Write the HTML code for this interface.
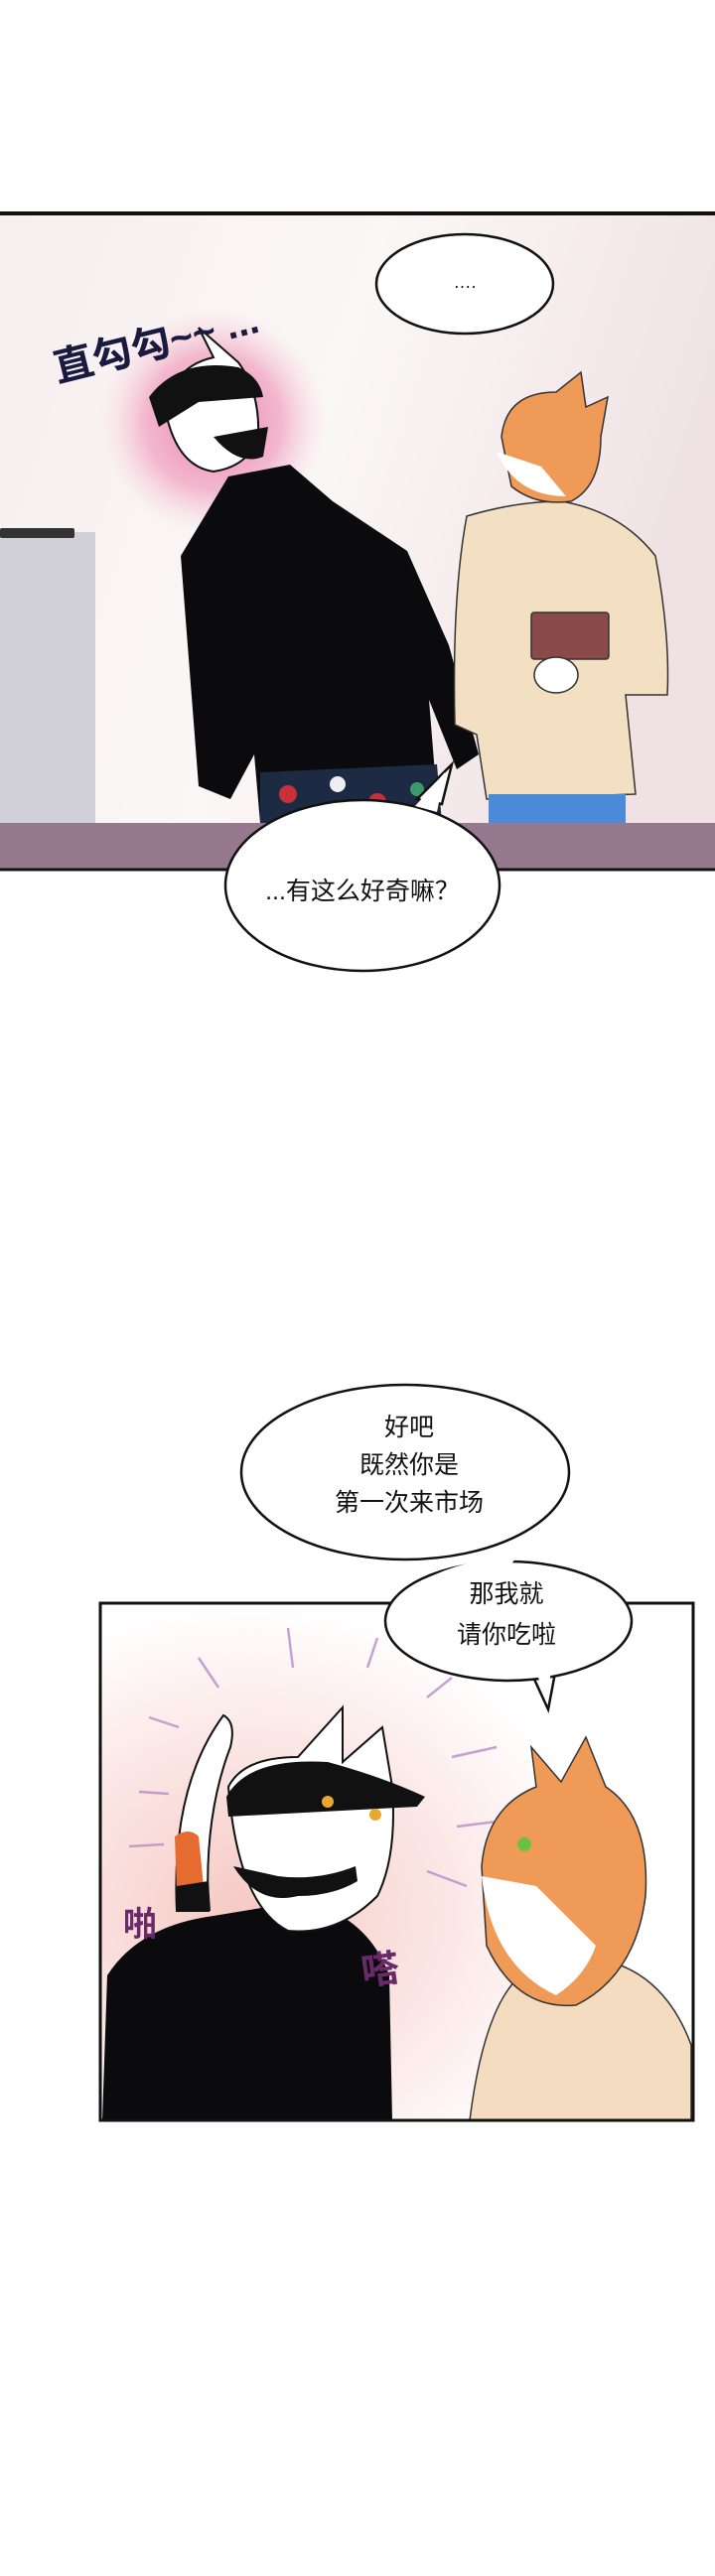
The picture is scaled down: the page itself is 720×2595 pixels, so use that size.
<!DOCTYPE html>
<html><head><meta charset="utf-8"><style>
html,body{margin:0;padding:0;background:#fff;}
svg{display:block}
text{font-family:"Liberation Sans","Noto Sans CJK SC",sans-serif;}
</style></head><body>
<svg width="720" height="2595" viewBox="0 0 720 2595" xmlns="http://www.w3.org/2000/svg">
<defs>
<linearGradient id="bg1" x1="0" y1="0" x2="1" y2="0.3">
<stop offset="0" stop-color="#f7eeee"/><stop offset="0.5" stop-color="#fbf7f7"/><stop offset="1" stop-color="#f0e2e4"/></linearGradient>
<radialGradient id="glow" cx="0.5" cy="0.5" r="0.5">
<stop offset="0" stop-color="#ec7fa8"/><stop offset="0.6" stop-color="#f1a9c3" stop-opacity="0.8"/><stop offset="1" stop-color="#f7d6e2" stop-opacity="0"/></radialGradient>
<radialGradient id="bg2" cx="0.25" cy="0.6" r="0.6">
<stop offset="0" stop-color="#f6c9c4"/><stop offset="0.6" stop-color="#fbe9e7"/><stop offset="1" stop-color="#ffffff"/></radialGradient>
</defs>

<!-- PANEL 1 -->
<rect x="0" y="215" width="720" height="661" fill="url(#bg1)"/>
<line x1="0" y1="215" x2="720" y2="215" stroke="#111" stroke-width="4"/>
<!-- fridge -->
<rect x="0" y="536" width="96" height="293" fill="#d1d0d8"/>
<rect x="0" y="532" width="75" height="10" fill="#333" rx="2"/>
<!-- glow -->
<circle cx="215" cy="425" r="115" fill="url(#glow)"/>
<!-- black cat body -->
<path d="M230 480 L292 468 L335 505 L410 555 L452 650 L482 760 L460 775 L432 705 L442 829 L262 829 L256 760 L232 805 L200 792 L182 560 Z" fill="#0b0b0d"/>
<path d="M262 778 L440 770 L445 829 L262 829 Z" fill="#1c2a44"/>
<circle cx="290" cy="800" r="9" fill="#c8303a"/><circle cx="340" cy="790" r="8" fill="#eee"/><circle cx="380" cy="808" r="9" fill="#c8303a"/><circle cx="420" cy="795" r="7" fill="#3a9a6a"/>
<!-- black cat head -->
<path d="M168 420 Q170 370 215 360 L200 330 L240 365 Q262 395 260 440 Q250 470 215 475 Q180 470 168 420 Z" fill="#fff" stroke="#111" stroke-width="2"/>
<path d="M150 400 Q180 360 240 370 Q262 380 265 400 L200 405 L160 430 Z" fill="#111"/>
<path d="M215 440 Q240 470 265 460 L270 430 Z" fill="#111"/>
<!-- orange cat -->
<path d="M470 520 Q520 505 565 505 Q625 515 660 560 Q675 640 672 700 L630 700 L640 800 L490 805 L480 740 L458 730 Q455 600 470 520 Z" fill="#f3dfc2" stroke="#333" stroke-width="1.5"/>
<rect x="492" y="800" width="138" height="29" fill="#4a8ad8"/>
<path d="M505 440 Q510 395 560 395 L585 375 L590 410 L612 400 L605 440 Q605 490 575 505 Q540 510 515 490 Z" fill="#f09a58" stroke="#333" stroke-width="1.5"/>
<path d="M500 455 Q520 500 570 500 L545 470 Z" fill="#fff"/>
<rect x="535" y="617" width="78" height="47" fill="#8a4a4a" stroke="#333" stroke-width="1.5" rx="3"/>
<ellipse cx="560" cy="680" rx="22" ry="18" fill="#fff" stroke="#333" stroke-width="1.5"/>
<rect x="0" y="829" width="720" height="47" fill="#97798f"/>
<line x1="0" y1="876" x2="720" y2="876" stroke="#111" stroke-width="3"/>
<!-- sound text -->
<text x="58" y="385" font-size="40" fill="#1a1a40" transform="rotate(-14 58 385)" font-weight="bold">直勾勾~~ ...</text>
<!-- bubble ... -->
<ellipse cx="468" cy="286" rx="89" ry="50" fill="#fff" stroke="#111" stroke-width="2.5"/>
<text x="468" y="290" font-size="18" text-anchor="middle" fill="#111">….</text>
<!-- bubble bottom -->
<path d="M420 805 L455 770 L445 810 Z" fill="#fff" stroke="#111" stroke-width="2.5"/>
<ellipse cx="365" cy="892" rx="138" ry="86" fill="#fff" stroke="#111" stroke-width="2.5"/>
<path d="M418 812 L448 778 L440 818 Z" fill="#fff"/>
<text x="365" y="906" font-size="25" text-anchor="middle" fill="#111">...有这么好奇嘛？</text>

<!-- PANEL 2 -->
<rect x="101" y="1615" width="597" height="521" fill="url(#bg2)"/>
<g stroke="#b88cc8" stroke-width="2.5" opacity="0.8">
<line x1="290" y1="1640" x2="295" y2="1680"/><line x1="200" y1="1670" x2="220" y2="1700"/><line x1="150" y1="1730" x2="180" y2="1740"/>
<line x1="380" y1="1650" x2="370" y2="1680"/><line x1="455" y1="1690" x2="430" y2="1710"/><line x1="500" y1="1760" x2="455" y2="1770"/>
<line x1="500" y1="1835" x2="460" y2="1840"/><line x1="470" y1="1900" x2="430" y2="1885"/><line x1="140" y1="1805" x2="170" y2="1807"/><line x1="130" y1="1860" x2="165" y2="1858"/>
</g>
<!-- tail -->
<path d="M178 1925 Q172 1800 225 1728 Q238 1735 232 1760 Q205 1830 210 1925 Z" fill="#fff" stroke="#111" stroke-width="2"/>
<path d="M176 1850 Q190 1840 200 1850 L205 1900 L178 1905 Z" fill="#e56b30"/>
<path d="M178 1900 L210 1895 L212 1925 L178 1925 Z" fill="#111"/>
<!-- black cat body p2 -->
<path d="M103 2136 L108 1990 Q140 1940 215 1930 L305 1915 Q370 1930 392 1990 L395 2136 Z" fill="#0b0b0d"/>
<!-- head p2 -->
<path d="M230 1800 Q245 1770 300 1770 L345 1720 L345 1775 L385 1740 L395 1800 Q400 1870 380 1910 Q340 1950 290 1945 Q240 1920 230 1800 Z" fill="#fff" stroke="#111" stroke-width="2"/>
<path d="M228 1810 Q250 1770 330 1775 Q385 1790 428 1810 L420 1820 L230 1830 Z" fill="#111"/>
<path d="M235 1880 Q260 1920 300 1910 Q335 1910 360 1895 L358 1880 Q320 1895 280 1890 Z" fill="#111"/>
<circle cx="330" cy="1815" r="6" fill="#e8a830"/><circle cx="378" cy="1828" r="6" fill="#e8a830"/>
<!-- orange cat p2 -->
<path d="M473 2136 Q490 2000 540 1980 L610 1975 Q670 1990 696 2060 L696 2136 Z" fill="#f3dcc0" stroke="#333" stroke-width="1.5"/>
<path d="M485 1880 Q490 1820 540 1800 L535 1760 L565 1795 L590 1750 L610 1800 Q655 1830 650 1910 Q640 1990 580 2020 Q520 2025 490 1960 Z" fill="#f09a58" stroke="#333" stroke-width="1.5"/>
<path d="M485 1890 Q495 1980 560 2010 Q590 1990 600 1960 L540 1900 Z" fill="#fff"/>
<circle cx="528" cy="1858" r="7" fill="#6cc040"/>
<text x="124" y="1950" font-size="34" fill="#6a2a6a" font-weight="bold">啪</text>
<text x="366" y="2000" font-size="38" fill="#6a2a6a" font-weight="bold" transform="rotate(-8 366 2000)">嗒</text>
<rect x="101" y="1615" width="597" height="521" fill="none" stroke="#111" stroke-width="3"/>
<!-- bubble 1 -->
<ellipse cx="408" cy="1483" rx="165" ry="88" fill="#fff" stroke="#111" stroke-width="2.5"/>
<!-- bubble 2 -->
<path d="M535 1685 L552 1722 L560 1680 Z" fill="#fff" stroke="#111" stroke-width="2.5"/>
<ellipse cx="512" cy="1633" rx="124" ry="60" fill="#fff" stroke="#111" stroke-width="2.5"/>
<path d="M430 1590 Q470 1570 520 1568 L500 1600 Z" fill="#fff"/>
<path d="M538 1680 L551 1712 L556 1676 Z" fill="#fff"/>
<g font-size="25" text-anchor="middle" fill="#111">
<text x="412" y="1446">好吧</text>
<text x="412" y="1484">既然你是</text>
<text x="412" y="1522">第一次来市场</text>
<text x="510" y="1614">那我就</text>
<text x="510" y="1655">请你吃啦</text>
</g>
</svg>
</body></html>
